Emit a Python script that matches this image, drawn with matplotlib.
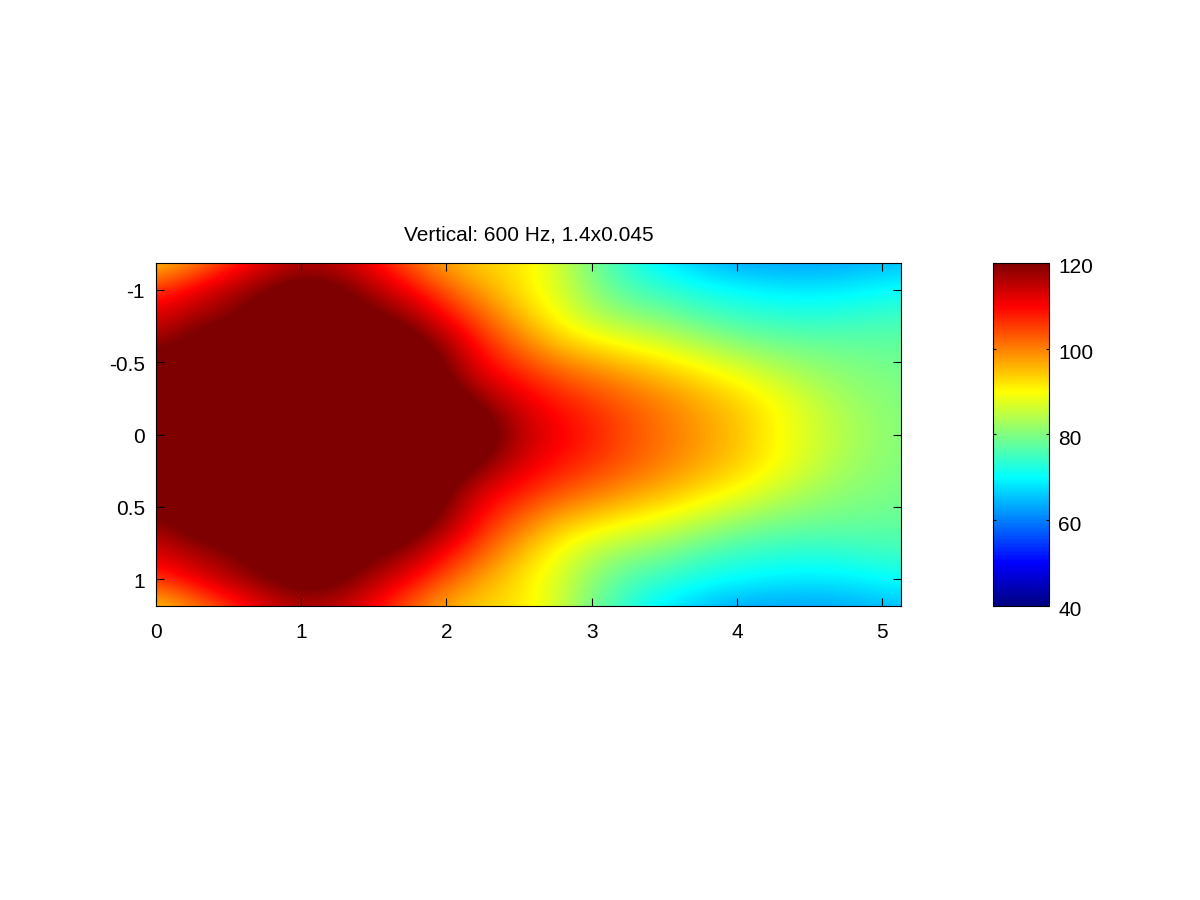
import matplotlib
matplotlib.use("Agg")
import matplotlib.pyplot as plt
from matplotlib.colors import LinearSegmentedColormap
from matplotlib.transforms import ScaledTranslation
import numpy as np

plt.rcParams['font.family'] = ['Liberation Sans', 'DejaVu Sans']

title = "Vertical: 600 Hz, 1.4x0.045"
x_centers = [0, .25, .5, .75, 1, 1.25, 1.5, 1.75, 2, 2.25, 2.5, 2.75, 3, 3.25, 3.5, 3.75, 4, 4.25, 4.5, 4.75, 5, 5.25]
y_centers = [-1.2, -1.0, -.8, -.6, -.4, -.2, 0, .2, .4, .6, .8, 1.0, 1.2]
level = [
 [93,98,105,111,115,114,109,102,96,93,92,87,79,73,68,65,63,62.5,62.5,63,64,65],
 [106,111,116,120,124,122,116,110,103,97,92,87.5,81,76,74,71.5,70,69,68.5,69,70,71],
 [113,117,119,124,127,125,122,118,110,103,96,90,85,82,80,77,75,74,73.5,74,75,75],
 [118.5,123,128,130,130,130,128,125,118,108,102,96,93,90.5,88,85,82,80,79,78.5,78,78],
 [125,128,131,133,134,134,132,128,121,112,108,104,101,98,95.5,92.5,89.5,86,83,81,80,79],
 [130,132,134,136,136,136,135,132,126,120,113,109,106,103,100,97,94,90.5,86.5,83,81,80],
 [132,134,136,137,138,137,136,133,128,125,116,111,108,104,101,98,95,90.5,87,84,81.5,80],
 [130,132,134,136,136,136,135,132,126,120,113,109,106,103,100,97,94,90.5,86.5,83,81,80],
 [125,128,131,133,134,134,132,128,121,112,108,104,101,98,95.5,92.5,89.5,86,83,81,80,79],
 [118.5,123,128,130,130,130,128,125,118,108,102,96,93,90.5,88,85,82,80,79,78.5,78,78],
 [113,117,119,124,127,125,122,118,110,103,96,90,85,82,80,77,75,74,73.5,74,75,75],
 [106,111,116,120,124,122,116,110,103,97,92,87.5,81,76,74,71.5,70,69,68.5,69,70,71],
 [93,98,105,111,115,114,109,102,96,93,92,87,79,73,68,65,63,62.5,62.5,63,64,65],
]
x_ticks = [0, 1, 2, 3, 4, 5]
y_ticks = [-1, -0.5, 0, 0.5, 1]
y_labels = ['-1', '-0.5', '0', '0.5', '1']
cbar_ticks = [40, 60, 80, 100, 120]

# Octave-style jet: breakpoints at eighths
octave_jet = LinearSegmentedColormap('octave_jet', {
    'red':   [(0, 0, 0), (.375, 0, 0), (.625, 1, 1), (.875, 1, 1), (1, .5, .5)],
    'green': [(0, 0, 0), (.125, 0, 0), (.375, 1, 1), (.625, 1, 1), (.875, 0, 0), (1, 0, 0)],
    'blue':  [(0, .5, .5), (.125, 1, 1), (.375, 1, 1), (.625, 0, 0), (1, 0, 0)],
}, N=256)

W, H = 1200, 900
fig = plt.figure(figsize=(12, 9), dpi=100)
ax = fig.add_axes([156/W, 1-606/H, (901-156)/W, (606-263)/H])
dx = x_centers[1]-x_centers[0]
dy = y_centers[1]-y_centers[0]
im = ax.imshow(np.array(level), cmap=octave_jet, vmin=40, vmax=120, aspect='auto',
               interpolation='bicubic', interpolation_stage='data',
               extent=(x_centers[0]-dx/2, x_centers[-1]+dx/2, y_centers[-1]+dy/2, y_centers[0]-dy/2))
ax.set_xlim(0, 5.13)
ax.set_ylim(1.185, -1.185)
ax.set_xticks(x_ticks)
ax.set_yticks(y_ticks, y_labels)
ax.tick_params(direction='in', top=True, right=True, length=5.5, width=0.8, labelsize=15)
ax.tick_params(axis='x', pad=12)
ax.tick_params(axis='y', pad=8)
ax.set_title(title, fontsize=15, pad=16)
for s in ax.spines.values():
    s.set_linewidth(0.8)

shift = ScaledTranslation(0, -2/72, fig.dpi_scale_trans)
for lab in ax.get_yticklabels():
    lab.set_transform(lab.get_transform() + ScaledTranslation(0, -0.8/72, fig.dpi_scale_trans))

cax = fig.add_axes([993/W, 1-606/H, (1049-993)/W, (606-263)/H])
cb = fig.colorbar(im, cax=cax)
cb.set_ticks(cbar_ticks)
cax.tick_params(direction='in', left=True, right=True, length=2.5, width=0.8, labelsize=15, pad=6.5)
cb.outline.set_linewidth(0.8)
for lab in cax.get_yticklabels():
    lab.set_transform(lab.get_transform() + shift)
fig.savefig('out.png', dpi=100)
